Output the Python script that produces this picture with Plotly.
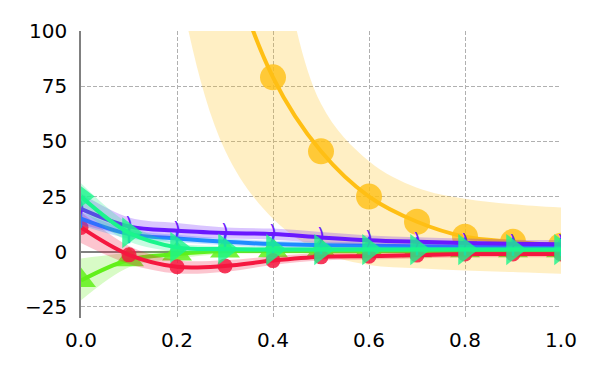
import plotly.graph_objects as go

# x positions of the samples
x = [0.0, 0.1, 0.2, 0.3, 0.4, 0.5, 0.6, 0.7, 0.8, 0.9, 1.0]

# yellow series (big circles) - runs off the top at small x
yellow_y = [780, 450, 250, 140, 79, 45.5, 25, 13.6, 6.8, 4.5, 2.7]
yellow_lo = [600, 300, 125, 46, 15, 0, -6, -7.5, -8.5, -9.2, -10]
yellow_hi = [1000, 600, 400, 260, 150, 67, 41, 29, 24, 21.5, 20]

# lime series (triangle-up)
lime_y = [-13, -3.6, -1, 0.3, 0.5, 0.5, 0.5, 0.5, 0.5, 0.5, 0.5]
lime_lo = [-22, -7, -3, -1, -0.8, -0.8, -0.8, -0.8, -0.8, -0.8, -0.8]
lime_hi = [-3, -0.5, 1, 1.6, 1.8, 1.8, 1.8, 1.8, 1.8, 1.8, 1.8]

# red series (small circles)
red_y = [11, -1.4, -6.8, -6.4, -4, -2.3, -2, -1.5, -1, -1, -1]
red_lo = [4, -5.5, -9.8, -9, -6, -4, -3.5, -3, -2.5, -2.5, -2.5]
red_hi = [18, 2.6, -3.8, -3.8, -2, -0.6, -0.5, 0, 0.5, 0.5, 0.5]

# blue series (vertical ticks)
blue_y = [15, 8, 6, 4.5, 3.5, 3, 2.7, 2.5, 2.4, 2.3, 2.2]
blue_lo = [12, 6, 4.3, 3, 2, 1.5, 1.2, 1, 0.9, 0.8, 0.7]
blue_hi = [18, 10, 7.7, 6, 5, 4.5, 4.2, 4, 3.9, 3.8, 3.7]

# purple series
purple_y = [19.5, 11.5, 9.5, 8.5, 8, 6.5, 5.2, 4.5, 4, 3.6, 3.4]
purple_lo = [12.5, 7.5, 6.5, 6, 5.5, 4, 3, 2.4, 2, 1.7, 1.5]
purple_hi = [26.5, 15.5, 13, 11, 10.5, 9, 7.4, 6.6, 6, 5.5, 5.3]

# teal series (triangle-right)
teal_y = [25, 8.6, 2, 1.2, 1, 1, 1, 1, 1, 1, 1]
teal_lo = [19, 4.6, 0, -0.2, -0.2, -0.2, -0.2, -0.2, -0.2, -0.2, -0.2]
teal_hi = [31, 12.6, 4, 2.6, 2.2, 2.2, 2.2, 2.2, 2.2, 2.2, 2.2]


def rgba(hex_color, a):
    h = hex_color.lstrip('#')
    r, g, b = int(h[0:2], 16), int(h[2:4], 16), int(h[4:6], 16)
    return f'rgba({r},{g},{b},{a})'


fig = go.Figure()


def add_series(y, lo, hi, color, marker):
    # shaded band
    fig.add_trace(go.Scatter(x=x, y=lo, mode='lines', line=dict(width=0, shape='spline'),
                             showlegend=False, hoverinfo='skip'))
    fig.add_trace(go.Scatter(x=x, y=hi, mode='lines', line=dict(width=0, shape='spline'),
                             fill='tonexty', fillcolor=rgba(color, 0.25),
                             showlegend=False, hoverinfo='skip'))
    # line + markers
    fig.add_trace(go.Scatter(x=x, y=y, mode='lines+markers',
                             line=dict(color=color, width=4, shape='spline'),
                             marker=marker, showlegend=False))


add_series(yellow_y, yellow_lo, yellow_hi, '#FFBF14',
           dict(symbol='circle', size=26, color=rgba('#FFBF14', 0.8)))
add_series(lime_y, lime_lo, lime_hi, '#62F01A',
           dict(symbol='triangle-up', size=26, color=rgba('#62F01A', 0.85)))
add_series(red_y, red_lo, red_hi, '#F5173F',
           dict(symbol='circle', size=15, color=rgba('#F5173F', 0.85)))
add_series(blue_y, blue_lo, blue_hi, '#1E8CFF',
           dict(symbol='line-ns', size=13, line=dict(color='#1E8CFF', width=2.5)))
add_series(purple_y, purple_lo, purple_hi, '#6A18FF',
           dict(size=1, color='#6A18FF'))
# purple markers look like ")" strokes
fig.add_trace(go.Scatter(x=x, y=purple_y, mode='text', text=[')'] * len(x),
                         textfont=dict(family='DejaVu Sans', size=20, color='#6A18FF'),
                         showlegend=False, hoverinfo='skip'))
add_series(teal_y, teal_lo, teal_hi, '#1AF58C',
           dict(symbol='triangle-right', size=27, color=rgba('#1AF58C', 0.8)))

grid = dict(showgrid=True, gridcolor='#b0b0b0', griddash='4px,2px', gridwidth=1)

# page body has an 8px margin, so the margins are shifted to compensate
fig.update_layout(
    width=600, height=375,
    margin=dict(l=73, r=47, t=23, b=65),
    plot_bgcolor='white', paper_bgcolor='white',
    font=dict(family='DejaVu Sans', size=20, color='black'),
    showlegend=False,
)
# invisible ticks push the labels away from the plot area
fig.update_xaxes(range=[0, 1], tickvals=[0, 0.2, 0.4, 0.6, 0.8, 1.0], tickformat='.1f',
                 zeroline=False, showline=False,
                 ticks='outside', ticklen=4, tickcolor='rgba(0,0,0,0)', **grid)
fig.update_yaxes(range=[-30, 100], tickvals=[-25, 0, 25, 50, 75, 100],
                 zeroline=True, zerolinecolor='#808080', zerolinewidth=2,
                 showline=True, linecolor='#808080', linewidth=1.5,
                 ticks='outside', ticklen=8, tickcolor='rgba(0,0,0,0)', **grid)

fig.write_html("out.html")
